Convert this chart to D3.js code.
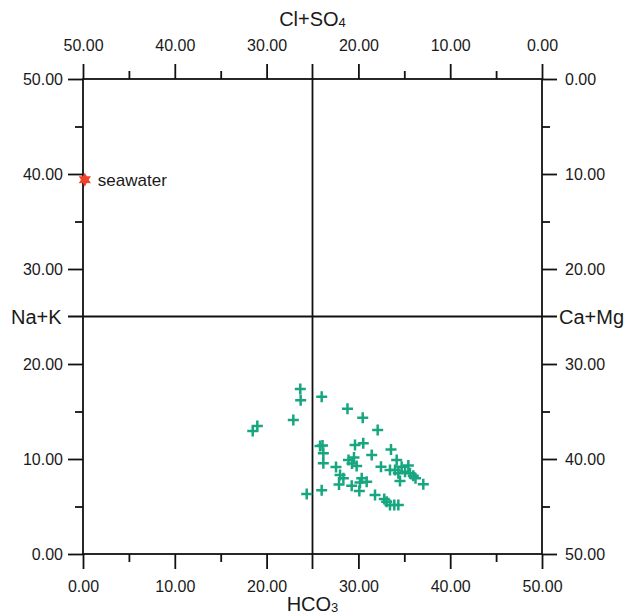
<!DOCTYPE html>
<html>
<head>
<meta charset="utf-8">
<script src="https://cdn.jsdelivr.net/npm/d3@7"></script>
<style>
  body { margin: 0; background: #fff; }
  text { font-family: "Liberation Sans", Arial, sans-serif; fill: #1a1a1a; }
</style>
</head>
<body>
<div id="chart"></div>
<script>
// sample points: HCO3 (x) and Na+K (y)
var hco3 = [23.67, 23.71, 26.00, 28.81, 22.91, 18.99, 18.49, 30.47, 32.10, 29.63,
            30.53, 33.55, 25.82, 26.09, 26.18, 26.18, 27.56, 28.00, 28.36, 27.89,
            26.00, 24.37, 31.45, 28.92, 29.52, 29.30, 29.81, 34.17, 32.46, 33.44,
            33.99, 34.71, 35.44, 34.35, 35.08, 35.62, 35.98, 36.22, 34.53, 37.07,
            29.27, 30.36, 30.17, 30.90, 30.10, 31.81, 32.82, 33.08, 33.44, 33.91,
            34.35];
var naK =  [17.37, 16.18, 16.56, 15.28, 14.11, 13.47, 12.95, 14.35, 13.05, 11.47,
            11.65, 11.00, 11.37, 11.42, 10.60, 9.55, 9.16, 8.32, 7.97, 7.32,
            6.71, 6.32, 10.42, 9.89, 10.16, 9.53, 9.26, 9.89, 9.19, 8.84,
            8.84, 9.19, 9.32, 8.49, 8.67, 8.49, 8.24, 7.97, 7.68, 7.34,
            7.19, 7.97, 7.53, 7.61, 6.63, 6.21, 5.79, 5.51, 5.16, 5.16,
            5.16];
var seawater = [{x: 0.2, y: 39.4, label: "seawater"}];

var majorTicks = [0, 10, 20, 30, 40, 50];
var minorTicks = [5, 15, 35, 45];
var midValue = 25;

var width = 624, height = 614;
var margin = {top: 79, right: 82, bottom: 60, left: 83};

var svg = d3.select("#chart").append("svg")
    .attr("width", width)
    .attr("height", height);

var x = d3.scaleLinear().domain([0, 50]).range([margin.left, width - margin.right]);
var y = d3.scaleLinear().domain([0, 50]).range([height - margin.bottom, margin.top]);
// top and right axes run the other way
var xTop = d3.scaleLinear().domain([50, 0]).range([margin.left, width - margin.right]);
var yRight = d3.scaleLinear().domain([50, 0]).range([height - margin.bottom, margin.top]);

var fmt = d3.format(".2f");
var big = 15, small = 8, lw = 1.8;

function drawAxis(axisFn, scale, transform, pad) {
  // minor ticks first, then majors with labels
  var gMin = svg.append("g").attr("transform", transform)
    .call(axisFn(scale).tickValues(minorTicks).tickSize(small).tickFormat(""));
  gMin.select(".domain").remove();
  var g = svg.append("g").attr("transform", transform)
    .call(axisFn(scale).tickValues(majorTicks).tickSize(big).tickPadding(pad).tickFormat(fmt));
  g.select(".domain").remove();
  g.selectAll("text").style("font-size", "16px").attr("fill", "#1a1a1a");
  svg.selectAll("g line").attr("stroke", "#111").attr("stroke-width", lw);
  return g;
}

drawAxis(d3.axisBottom, x, "translate(0," + y(0) + ")", 12);
drawAxis(d3.axisLeft, y, "translate(" + x(0) + ",0)", 5);
drawAxis(d3.axisTop, xTop, "translate(0," + y(50) + ")", 13);
drawAxis(d3.axisRight, yRight, "translate(" + x(50) + ",0)", 8);

// frame
svg.append("rect")
  .attr("x", x(0)).attr("y", y(50))
  .attr("width", x(50) - x(0)).attr("height", y(0) - y(50))
  .attr("fill", "none").attr("stroke", "#111").attr("stroke-width", lw);

// centre cross lines, running out as far as the ticks
svg.append("line")
  .attr("x1", x(midValue)).attr("x2", x(midValue))
  .attr("y1", y(50) - big).attr("y2", y(0) + big)
  .attr("stroke", "#111").attr("stroke-width", lw);
svg.append("line")
  .attr("x1", x(0) - big).attr("x2", x(50) + big)
  .attr("y1", y(midValue)).attr("y2", y(midValue))
  .attr("stroke", "#111").attr("stroke-width", lw);

// axis titles
function title(px, py, anchor, main, sub) {
  var t = svg.append("text")
    .attr("x", px).attr("y", py)
    .attr("text-anchor", anchor)
    .style("font-size", "20px");
  t.append("tspan").text(main);
  if (sub) t.append("tspan").text(sub).style("font-size", "13px").attr("dy", 1);
  return t;
}
title(x(midValue), 26, "middle", "Cl+SO", "4");
title(x(midValue), 611, "middle", "HCO", "3");
title(11, y(midValue) + 7, "start", "Na+K");
title(559, y(midValue) + 7, "start", "Ca+Mg");

// sample crosses
var pts = hco3.map(function(d, i) { return {x: d, y: naK[i]}; });
svg.append("g").selectAll("path")
  .data(pts)
  .enter()
  .append("path")
    .attr("transform", function(d) { return "translate(" + x(d.x) + "," + y(d.y) + ")"; })
    .attr("d", "M-5.5,0H5.5M0,-5.5V5.5")
    .attr("stroke", "#17a67f")
    .attr("stroke-width", 2.5)
    .attr("fill", "none");

// six pointed star for seawater
var star6 = {
  draw: function(context, size) {
    var r = Math.sqrt(size) / 2, ri = r * 0.55;
    for (var i = 0; i < 12; i++) {
      var a = Math.PI / 6 * i - Math.PI / 2;
      var rr = i % 2 ? ri : r;
      if (i === 0) context.moveTo(rr * Math.cos(a), rr * Math.sin(a));
      else context.lineTo(rr * Math.cos(a), rr * Math.sin(a));
    }
    context.closePath();
  }
};
var sw = svg.append("g").selectAll("g")
  .data(seawater)
  .enter()
  .append("g")
    .attr("transform", function(d) { return "translate(" + x(d.x) + "," + y(d.y) + ")"; });
sw.append("path")
  .attr("d", d3.symbol().type(star6).size(200))
  .attr("fill", "#f0432c");
sw.append("text")
  .attr("x", 13).attr("y", 6)
  .style("font-size", "17px")
  .text(function(d) { return d.label; });
</script>
</body>
</html>
